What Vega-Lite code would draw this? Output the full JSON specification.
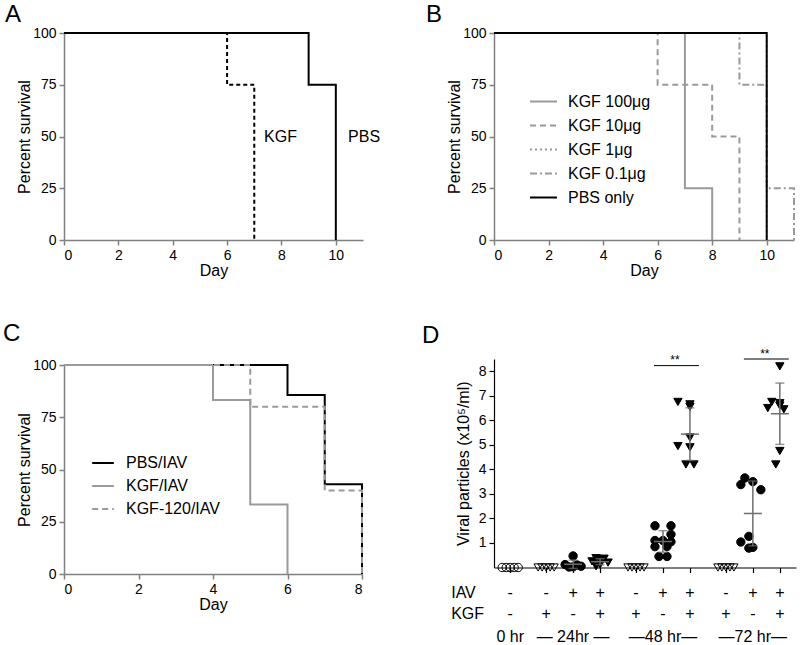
{
  "$schema": "https://vega.github.io/schema/vega-lite/v6.json",
  "background": "white",
  "padding": {"left": 3, "top": 3, "right": 0, "bottom": 0},
  "config": {
    "font": "Liberation Sans",
    "view": {"stroke": null},
    "axis": {"grid": false, "domainColor": "#808080", "tickColor": "#808080", "domainWidth": 1.5, "tickWidth": 1.5, "labelColor": "black", "titleColor": "black", "labelFontSize": 14, "titleFontSize": 16, "titleFontWeight": "normal", "tickSize": 5, "labelPadding": 3, "titlePadding": 0, "labelOverlap": false},
    "title": {"fontSize": 24, "fontWeight": "normal", "anchor": "start", "frame": "group", "color": "black"},
    "legend": {"labelFontSize": 16, "labelColor": "black", "symbolType": "stroke", "symbolStrokeWidth": 2, "padding": 0}
  },
  "resolve": {
    "scale": {"color": "independent", "strokeDash": "independent", "shape": "independent", "fill": "independent"},
    "legend": {"color": "independent", "strokeDash": "independent"}
  },
  "datasets": {
    "survA": [
      {"group": "KGF", "day": 0, "survival": 100}, {"group": "KGF", "day": 6, "survival": 75}, {"group": "KGF", "day": 7, "survival": 0},
      {"group": "PBS", "day": 0, "survival": 100}, {"group": "PBS", "day": 9, "survival": 75}, {"group": "PBS", "day": 10, "survival": 0}
    ],
    "labelsA": [{"group": "KGF", "day": 7.36, "survival": 50}, {"group": "PBS", "day": 10.45, "survival": 50}],
    "survB": [
      {"group": "KGF 100μg", "day": 0, "survival": 100}, {"group": "KGF 100μg", "day": 7, "survival": 25}, {"group": "KGF 100μg", "day": 8, "survival": 0},
      {"group": "KGF 10μg", "day": 0, "survival": 100}, {"group": "KGF 10μg", "day": 6, "survival": 75}, {"group": "KGF 10μg", "day": 8, "survival": 50}, {"group": "KGF 10μg", "day": 9, "survival": 0},
      {"group": "KGF 1μg", "day": 0, "survival": 100}, {"group": "KGF 1μg", "day": 10, "survival": 0},
      {"group": "KGF 0.1μg", "day": 0, "survival": 100}, {"group": "KGF 0.1μg", "day": 9, "survival": 75}, {"group": "KGF 0.1μg", "day": 10, "survival": 25}, {"group": "KGF 0.1μg", "day": 11, "survival": 0},
      {"group": "PBS only", "day": 0, "survival": 100}, {"group": "PBS only", "day": 10, "survival": 0}
    ],
    "survC": [
      {"group": "PBS/IAV", "day": 0, "survival": 100}, {"group": "PBS/IAV", "day": 6, "survival": 85.7}, {"group": "PBS/IAV", "day": 7, "survival": 42.9}, {"group": "PBS/IAV", "day": 8, "survival": 0},
      {"group": "KGF-120/IAV", "day": 0, "survival": 100}, {"group": "KGF-120/IAV", "day": 5, "survival": 80}, {"group": "KGF-120/IAV", "day": 7, "survival": 40}, {"group": "KGF-120/IAV", "day": 8, "survival": 0},
      {"group": "KGF/IAV", "day": 0, "survival": 100}, {"group": "KGF/IAV", "day": 4, "survival": 83.3}, {"group": "KGF/IAV", "day": 5, "survival": 33.3}, {"group": "KGF/IAV", "day": 6, "survival": 0}
    ],
    "groupsD": [
      {"slot": 0, "IAV": "-", "KGF": "-"}, {"slot": 4, "IAV": "-", "KGF": "+"}, {"slot": 7, "IAV": "+", "KGF": "-"}, {"slot": 10, "IAV": "+", "KGF": "+"},
      {"slot": 14, "IAV": "-", "KGF": "+"}, {"slot": 17, "IAV": "+", "KGF": "-"}, {"slot": 20, "IAV": "+", "KGF": "+"},
      {"slot": 24, "IAV": "-", "KGF": "+"}, {"slot": 27, "IAV": "+", "KGF": "-"}, {"slot": 30, "IAV": "+", "KGF": "+"}
    ],
    "timesD": [{"slot": 0, "time": "0 hr"}, {"slot": 7, "time": "— 24hr —"}, {"slot": 17, "time": "—48 hr—"}, {"slot": 27, "time": "—72 hr—"}],
    "sigD": [{"from": 16, "to": 21, "y": 8.23, "mid": 18, "ty": 8.45, "label": "**"}, {"from": 26, "to": 31, "y": 8.5, "mid": 28, "ty": 8.72, "label": "**"}],
    "pointsD": [
      {"slot": 0, "IAV": "-", "KGF": "-", "rep": 2, "v": 0}, {"slot": 0, "IAV": "-", "KGF": "-", "rep": 3, "v": 0}, {"slot": 0, "IAV": "-", "KGF": "-", "rep": 4, "v": 0}, {"slot": 0, "IAV": "-", "KGF": "-", "rep": 5, "v": 0}, {"slot": 0, "IAV": "-", "KGF": "-", "rep": 6, "v": 0},
      {"slot": 4, "IAV": "-", "KGF": "+", "rep": 2, "v": 0}, {"slot": 4, "IAV": "-", "KGF": "+", "rep": 3, "v": 0}, {"slot": 4, "IAV": "-", "KGF": "+", "rep": 4, "v": 0}, {"slot": 4, "IAV": "-", "KGF": "+", "rep": 5, "v": 0}, {"slot": 4, "IAV": "-", "KGF": "+", "rep": 6, "v": 0},
      {"slot": 7, "IAV": "+", "KGF": "-", "rep": 4, "v": 0.47}, {"slot": 7, "IAV": "+", "KGF": "-", "rep": 2, "v": 0.12}, {"slot": 7, "IAV": "+", "KGF": "-", "rep": 5, "v": 0.1}, {"slot": 7, "IAV": "+", "KGF": "-", "rep": 6, "v": 0.05}, {"slot": 7, "IAV": "+", "KGF": "-", "rep": 4, "v": 0.03}, {"slot": 7, "IAV": "+", "KGF": "-", "rep": 3, "v": 0.02},
      {"slot": 10, "IAV": "+", "KGF": "+", "rep": 3, "v": 0.38}, {"slot": 10, "IAV": "+", "KGF": "+", "rep": 5, "v": 0.36}, {"slot": 10, "IAV": "+", "KGF": "+", "rep": 4, "v": 0.3}, {"slot": 10, "IAV": "+", "KGF": "+", "rep": 2, "v": 0.25}, {"slot": 10, "IAV": "+", "KGF": "+", "rep": 6, "v": 0.2}, {"slot": 10, "IAV": "+", "KGF": "+", "rep": 4, "v": 0.12}, {"slot": 10, "IAV": "+", "KGF": "+", "rep": 3, "v": 0.05},
      {"slot": 14, "IAV": "-", "KGF": "+", "rep": 2, "v": 0}, {"slot": 14, "IAV": "-", "KGF": "+", "rep": 3, "v": 0}, {"slot": 14, "IAV": "-", "KGF": "+", "rep": 4, "v": 0}, {"slot": 14, "IAV": "-", "KGF": "+", "rep": 5, "v": 0}, {"slot": 14, "IAV": "-", "KGF": "+", "rep": 6, "v": 0},
      {"slot": 17, "IAV": "+", "KGF": "-", "rep": 2, "v": 1.7}, {"slot": 17, "IAV": "+", "KGF": "-", "rep": 6, "v": 1.7}, {"slot": 17, "IAV": "+", "KGF": "-", "rep": 6, "v": 1.35}, {"slot": 17, "IAV": "+", "KGF": "-", "rep": 2, "v": 1.1}, {"slot": 17, "IAV": "+", "KGF": "-", "rep": 4, "v": 1.1}, {"slot": 17, "IAV": "+", "KGF": "-", "rep": 6, "v": 1.05}, {"slot": 17, "IAV": "+", "KGF": "-", "rep": 2, "v": 0.85}, {"slot": 17, "IAV": "+", "KGF": "-", "rep": 5, "v": 0.85}, {"slot": 17, "IAV": "+", "KGF": "-", "rep": 3, "v": 0.45}, {"slot": 17, "IAV": "+", "KGF": "-", "rep": 5, "v": 0.45},
      {"slot": 20, "IAV": "+", "KGF": "+", "rep": 1, "v": 6.75}, {"slot": 20, "IAV": "+", "KGF": "+", "rep": 4, "v": 6.65}, {"slot": 20, "IAV": "+", "KGF": "+", "rep": 4, "v": 6.55}, {"slot": 20, "IAV": "+", "KGF": "+", "rep": 4, "v": 5.3}, {"slot": 20, "IAV": "+", "KGF": "+", "rep": 1, "v": 4.95}, {"slot": 20, "IAV": "+", "KGF": "+", "rep": 4, "v": 4.9}, {"slot": 20, "IAV": "+", "KGF": "+", "rep": 3, "v": 4.2}, {"slot": 20, "IAV": "+", "KGF": "+", "rep": 5, "v": 4.2},
      {"slot": 24, "IAV": "-", "KGF": "+", "rep": 2, "v": 0}, {"slot": 24, "IAV": "-", "KGF": "+", "rep": 3, "v": 0}, {"slot": 24, "IAV": "-", "KGF": "+", "rep": 4, "v": 0}, {"slot": 24, "IAV": "-", "KGF": "+", "rep": 5, "v": 0}, {"slot": 24, "IAV": "-", "KGF": "+", "rep": 6, "v": 0},
      {"slot": 27, "IAV": "+", "KGF": "-", "rep": 2, "v": 3.65}, {"slot": 27, "IAV": "+", "KGF": "-", "rep": 4, "v": 3.5}, {"slot": 27, "IAV": "+", "KGF": "-", "rep": 1, "v": 3.38}, {"slot": 27, "IAV": "+", "KGF": "-", "rep": 6, "v": 3.17}, {"slot": 27, "IAV": "+", "KGF": "-", "rep": 3, "v": 1.27}, {"slot": 27, "IAV": "+", "KGF": "-", "rep": 1, "v": 1.04}, {"slot": 27, "IAV": "+", "KGF": "-", "rep": 4, "v": 0.82}, {"slot": 27, "IAV": "+", "KGF": "-", "rep": 3, "v": 0.79},
      {"slot": 30, "IAV": "+", "KGF": "+", "rep": 4, "v": 8.2}, {"slot": 30, "IAV": "+", "KGF": "+", "rep": 2, "v": 6.75}, {"slot": 30, "IAV": "+", "KGF": "+", "rep": 4, "v": 6.7}, {"slot": 30, "IAV": "+", "KGF": "+", "rep": 4, "v": 6.6}, {"slot": 30, "IAV": "+", "KGF": "+", "rep": 1, "v": 6.5}, {"slot": 30, "IAV": "+", "KGF": "+", "rep": 5, "v": 6.45}, {"slot": 30, "IAV": "+", "KGF": "+", "rep": 4, "v": 4.75}, {"slot": 30, "IAV": "+", "KGF": "+", "rep": 3, "v": 4.2}
    ]
  },
  "columns": 2,
  "bounds": "flush",
  "spacing": {"row": 119, "column": 131},
  "concat": [
    {
      "width": 299, "height": 207,
      "title": {"text": "A", "dx": -59, "dy": 5},
      "layer": [
        {
          "data": {"name": "survA"},
          "mark": {"type": "line", "interpolate": "step-after", "strokeWidth": 2, "color": "black"},
          "encoding": {
            "x": {"field": "day", "type": "quantitative", "scale": {"domain": [0, 11], "nice": false}, "axis": {"values": [0, 2, 4, 6, 8, 10], "title": "Day"}},
            "y": {"field": "survival", "type": "quantitative", "scale": {"domain": [0, 100], "nice": false}, "axis": {"values": [0, 25, 50, 75, 100], "title": "Percent survival"}},
            "strokeDash": {"field": "group", "type": "nominal", "scale": {"domain": ["KGF", "PBS"], "range": [[4, 3], [1, 0]]}, "legend": null}
          }
        },
        {
          "data": {"name": "labelsA"},
          "mark": {"type": "text", "align": "left", "baseline": "middle", "fontSize": 16, "color": "black"},
          "encoding": {
            "x": {"field": "day", "type": "quantitative"},
            "y": {"field": "survival", "type": "quantitative"},
            "text": {"field": "group"}
          }
        }
      ]
    },
    {
      "width": 300, "height": 207,
      "title": {"text": "B", "dx": -68, "dy": 5},
      "data": {"name": "survB"},
      "mark": {"type": "line", "interpolate": "step-after", "strokeWidth": 2},
      "encoding": {
        "x": {"field": "day", "type": "quantitative", "scale": {"domain": [0, 11], "nice": false}, "axis": {"values": [0, 2, 4, 6, 8, 10], "title": "Day"}},
        "y": {"field": "survival", "type": "quantitative", "scale": {"domain": [0, 100], "nice": false}, "axis": {"values": [0, 25, 50, 75, 100], "title": "Percent survival"}},
        "color": {"field": "group", "type": "nominal", "scale": {"domain": ["KGF 100μg", "KGF 10μg", "KGF 1μg", "KGF 0.1μg", "PBS only"], "range": ["#9a9a9a", "#9a9a9a", "#9a9a9a", "#9a9a9a", "black"]},
          "legend": {"title": null, "orient": "none", "legendX": 35, "legendY": 54, "symbolSize": 729, "labelOffset": 10, "rowPadding": 1}},
        "strokeDash": {"field": "group", "type": "nominal", "scale": {"domain": ["KGF 100μg", "KGF 10μg", "KGF 1μg", "KGF 0.1μg", "PBS only"], "range": [[1, 0], [6, 4], [2, 3], [7, 3, 2, 3], [1, 0]]},
          "legend": {"title": null, "orient": "none", "legendX": 35, "legendY": 54, "symbolSize": 729, "labelOffset": 10, "rowPadding": 1}}
      }
    },
    {
      "width": 298, "height": 215,
      "title": {"text": "C", "dx": -61, "dy": -8},
      "data": {"name": "survC"},
      "mark": {"type": "line", "interpolate": "step-after", "strokeWidth": 2},
      "encoding": {
        "x": {"field": "day", "type": "quantitative", "scale": {"domain": [0, 8], "nice": false}, "axis": {"values": [0, 2, 4, 6, 8], "title": "Day"}},
        "y": {"field": "survival", "type": "quantitative", "scale": {"domain": [0, 100], "nice": false, "range": [215, 6]}, "axis": {"values": [0, 25, 50, 75, 100], "title": "Percent survival"}},
        "color": {"field": "group", "type": "nominal", "scale": {"domain": ["PBS/IAV", "KGF/IAV", "KGF-120/IAV"], "range": ["black", "#9a9a9a", "#9a9a9a"]},
          "legend": {"title": null, "orient": "none", "legendX": 27, "legendY": 92, "symbolSize": 470, "labelOffset": 11, "rowPadding": 3}},
        "strokeDash": {"field": "group", "type": "nominal", "scale": {"domain": ["PBS/IAV", "KGF/IAV", "KGF-120/IAV"], "range": [[1, 0], [1, 0], [6, 4]]},
          "legend": {"title": null, "orient": "none", "legendX": 27, "legendY": 92, "symbolSize": 470, "labelOffset": 11, "rowPadding": 3}}
      }
    },
    {
      "width": 302, "height": 208.5,
      "title": {"text": "D", "dx": -72, "dy": 4},
      "encoding": {
        "x": {"field": "slot", "type": "ordinal", "scale": {"type": "point", "domain": [-1, 0, 1, 2, 3, 4, 5, 6, 7, 8, 9, 10, 11, 12, 13, 14, 15, 16, 17, 18, 19, 20, 21, 22, 23, 24, 25, 26, 27, 28, 29, 30, 31], "padding": 0.8},
          "axis": {"values": [0, 4, 7, 10, 14, 17, 20, 24, 27, 30], "labels": false, "title": null, "domainColor": "black", "tickColor": "black", "domainWidth": 1.2, "tickWidth": 1.2}}
      },
      "layer": [
        {
          "data": {"name": "pointsD"},
          "encoding": {
            "y": {"field": "v", "type": "quantitative", "scale": {"domain": [0, 8.5], "nice": false, "zero": false},
              "axis": {"values": [1, 2, 3, 4, 5, 6, 7, 8], "title": "Viral particles (x10⁵/ml)", "domainColor": "black", "tickColor": "black", "domainWidth": 1.2, "tickWidth": 1.2, "titlePadding": 7, "labelOverlap": false}}
          },
          "layer": [
            {
              "mark": {"type": "point", "filled": true, "stroke": "black", "strokeWidth": 1, "opacity": 1, "size": 70},
              "encoding": {
                "xOffset": {"field": "rep", "type": "ordinal", "scale": {"type": "point", "domain": [1, 2, 3, 4, 5, 6, 7], "range": [-12, 12], "padding": 0}},
                "shape": {"field": "KGF", "type": "nominal", "scale": {"domain": ["-", "+"], "range": ["circle", "triangle-down"]}, "legend": null},
                "fill": {"field": "IAV", "type": "nominal", "scale": {"domain": ["-", "+"], "range": ["transparent", "black"]}, "legend": null}
              }
            },
            {
              "transform": [{"filter": "datum.IAV == '+'"}],
              "mark": {"type": "errorbar", "extent": "stdev", "color": "#6e6e6e", "thickness": 1.5, "ticks": {"size": 9, "thickness": 1.5, "color": "#6e6e6e"}}
            },
            {
              "transform": [{"filter": "datum.IAV == '+'"}],
              "mark": {"type": "tick", "orient": "horizontal", "size": 18, "thickness": 1.5, "color": "#6e6e6e"},
              "encoding": {"y": {"field": "v", "type": "quantitative", "aggregate": "mean", "axis": {"values": [1, 2, 3, 4, 5, 6, 7, 8], "title": "Viral particles (x10⁵/ml)", "domainColor": "black", "tickColor": "black", "domainWidth": 1.2, "tickWidth": 1.2, "titlePadding": 7, "labelOverlap": false}}}
            }
          ]
        },
        {
          "data": {"name": "sigD"},
          "mark": {"type": "rule", "color": "black", "strokeWidth": 1},
          "encoding": {"x": {"field": "from"}, "x2": {"field": "to"}, "y": {"field": "y", "type": "quantitative", "axis": {"values": [1, 2, 3, 4, 5, 6, 7, 8], "title": "Viral particles (x10⁵/ml)", "domainColor": "black", "tickColor": "black", "domainWidth": 1.2, "tickWidth": 1.2, "titlePadding": 7, "labelOverlap": false}}}
        },
        {
          "data": {"name": "sigD"},
          "mark": {"type": "text", "fontSize": 12, "baseline": "middle", "dx": 3, "color": "black"},
          "encoding": {"x": {"field": "mid"}, "y": {"field": "ty", "type": "quantitative", "axis": {"values": [1, 2, 3, 4, 5, 6, 7, 8], "title": "Viral particles (x10⁵/ml)", "domainColor": "black", "tickColor": "black", "domainWidth": 1.2, "tickWidth": 1.2, "titlePadding": 7, "labelOverlap": false}}, "text": {"field": "label"}}
        },
        {
          "data": {"name": "groupsD"},
          "mark": {"type": "text", "fontSize": 16, "baseline": "middle", "color": "black"},
          "encoding": {"y": {"datum": -1.05, "type": "quantitative", "axis": {"values": [1, 2, 3, 4, 5, 6, 7, 8], "title": "Viral particles (x10⁵/ml)", "domainColor": "black", "tickColor": "black", "domainWidth": 1.2, "tickWidth": 1.2, "titlePadding": 7, "labelOverlap": false}}, "text": {"field": "IAV"}}
        },
        {
          "data": {"name": "groupsD"},
          "mark": {"type": "text", "fontSize": 16, "baseline": "middle", "color": "black"},
          "encoding": {"y": {"datum": -1.88, "type": "quantitative", "axis": {"values": [1, 2, 3, 4, 5, 6, 7, 8], "title": "Viral particles (x10⁵/ml)", "domainColor": "black", "tickColor": "black", "domainWidth": 1.2, "tickWidth": 1.2, "titlePadding": 7, "labelOverlap": false}}, "text": {"field": "KGF"}}
        },
        {
          "data": {"name": "timesD"},
          "mark": {"type": "text", "fontSize": 16, "baseline": "middle", "color": "black"},
          "encoding": {"y": {"datum": -2.85, "type": "quantitative", "axis": {"values": [1, 2, 3, 4, 5, 6, 7, 8], "title": "Viral particles (x10⁵/ml)", "domainColor": "black", "tickColor": "black", "domainWidth": 1.2, "tickWidth": 1.2, "titlePadding": 7, "labelOverlap": false}}, "text": {"field": "time"}}
        },
        {
          "data": {"values": [{"slot": -1, "row": "IAV", "ry": -1.05}, {"slot": -1, "row": "KGF", "ry": -1.88}]},
          "mark": {"type": "text", "fontSize": 16, "baseline": "middle", "align": "left", "dx": -50, "color": "black"},
          "encoding": {"y": {"field": "ry", "type": "quantitative", "axis": {"values": [1, 2, 3, 4, 5, 6, 7, 8], "title": "Viral particles (x10⁵/ml)", "domainColor": "black", "tickColor": "black", "domainWidth": 1.2, "tickWidth": 1.2, "titlePadding": 7, "labelOverlap": false}}, "text": {"field": "row"}}
        }
      ]
    }
  ]
}
